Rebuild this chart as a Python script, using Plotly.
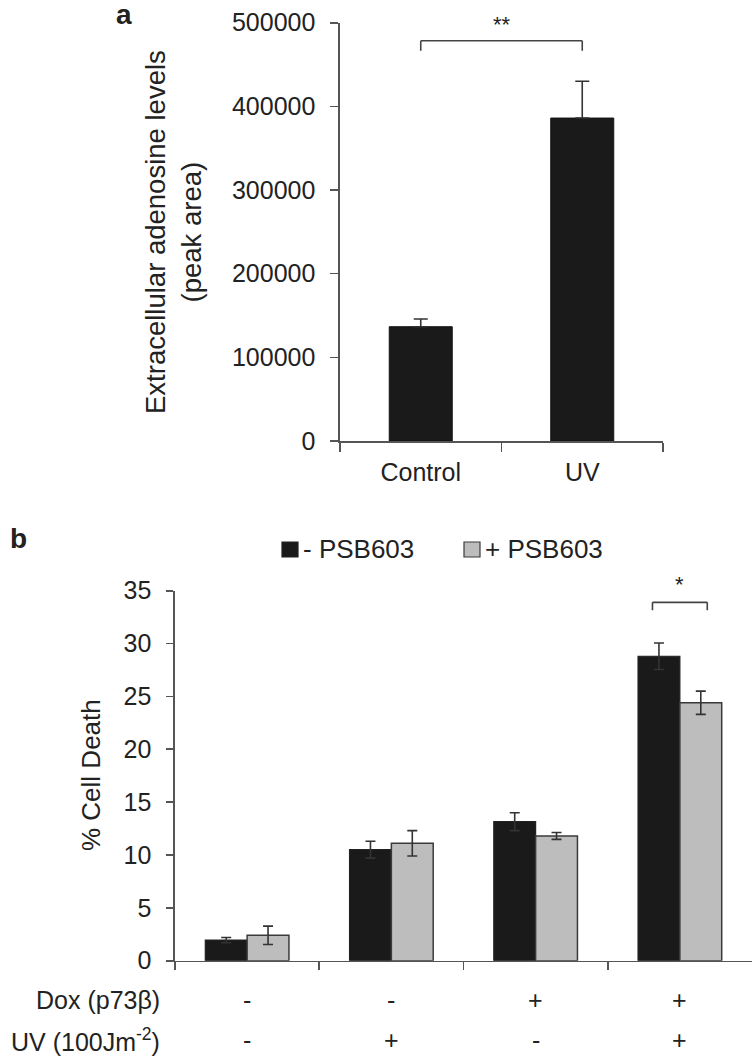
import plotly.graph_objects as go

# ---------------- data ----------------
# Panel a
a_categories = ["Control", "UV"]
a_values = [136600, 386000]
a_errors = [9200, 44000]
a_ticks = [0, 100000, 200000, 300000, 400000, 500000]

# Panel b
b_groups = ["Dox-/UV-", "Dox-/UV+", "Dox+/UV-", "Dox+/UV+"]
b_minus_psb = [1.95, 10.5, 13.15, 28.8]
b_minus_err = [0.25, 0.8, 0.85, 1.25]
b_plus_psb = [2.4, 11.1, 11.8, 24.4]
b_plus_err = [0.87, 1.2, 0.32, 1.1]
b_ticks = [0, 5, 10, 15, 20, 25, 30, 35]
dox_signs = ["-", "-", "+", "+"]
uv_signs = ["-", "+", "-", "+"]
series_names = ["- PSB603", "+ PSB603"]

# ---------------- style ----------------
W, H = 754, 1059
FONT = "Liberation Sans, Arial, sans-serif"
TXT = "#222222"
AX = "#555555"
BLACK = "#1a1a1a"
GRAY = "#bdbdbd"


def px_x(p):
    return p / W


def px_y(p):
    return 1 - p / H


fig = go.Figure()

# Panel a bars
fig.add_trace(go.Bar(
    x=a_categories, y=a_values, xaxis="x", yaxis="y",
    width=0.39,
    marker=dict(color=BLACK, line=dict(color="#111111", width=1)),
    error_y=dict(type="data", array=a_errors, arrayminus=[0] * len(a_errors),
                 symmetric=False, color="#333333", thickness=1.6, width=7),
    showlegend=False,
))

# Panel b bars
fig.add_trace(go.Bar(
    x=b_groups, y=b_minus_psb, xaxis="x2", yaxis="y2", name=series_names[0],
    width=0.29, offset=-0.29,
    marker=dict(color=BLACK, line=dict(color="#222222", width=1.2)),
    error_y=dict(type="data", array=b_minus_err, color="#333333", thickness=1.6, width=5),
    showlegend=False,
))
fig.add_trace(go.Bar(
    x=b_groups, y=b_plus_psb, xaxis="x2", yaxis="y2", name=series_names[1],
    width=0.29, offset=0,
    marker=dict(color=GRAY, line=dict(color="#3a3a3a", width=1.5)),
    error_y=dict(type="data", array=b_plus_err, color="#333333", thickness=1.6, width=5),
    showlegend=False,
))

axis_common = dict(
    showline=True, linecolor=AX, linewidth=1.6,
    ticks="outside", tickcolor=AX, tickwidth=1.6,
    showgrid=False, zeroline=False, automargin=False,
    tickfont=dict(family=FONT, size=25, color=TXT),
    fixedrange=True,
)

fig.update_layout(
    template="none",
    width=W, height=H,
    margin=dict(l=0, r=0, t=0, b=0, pad=0, autoexpand=False),
    paper_bgcolor="white", plot_bgcolor="white",
    barmode="overlay", showlegend=False,
    font=dict(family=FONT, color=TXT),
    xaxis=dict(axis_common, domain=[px_x(340), px_x(663)], anchor="y",
               type="category", categoryorder="array", categoryarray=a_categories,
               range=[-0.5, 1.5], tickson="boundaries", ticklen=9,
               ticklabelstandoff=8),
    yaxis=dict(axis_common, domain=[px_y(441), px_y(22.7)], anchor="x",
               range=[0, 500000], tickvals=a_ticks, tickformat="d", ticklen=8,
               ticklabelstandoff=10),
    xaxis2=dict(axis_common, domain=[px_x(175), px_x(752)], anchor="y2",
                type="category", categoryorder="array", categoryarray=b_groups,
                range=[-0.5, 3.5], tickson="boundaries", ticklen=8,
                showticklabels=False),
    yaxis2=dict(axis_common, domain=[px_y(960.7), px_y(590.7)], anchor="x2",
                range=[0, 35], tickvals=b_ticks, ticklen=7,
                ticklabelstandoff=10),
)

ann = []
shapes = []

# Panel letters
ann.append(dict(text="<b>a</b>", x=px_x(114), y=px_y(-3), xref="paper", yref="paper",
                showarrow=False, font=dict(size=28, family=FONT, color=TXT)))
ann.append(dict(text="<b>b</b>", x=px_x(8), y=px_y(538), xref="paper", yref="paper",
                showarrow=False, font=dict(size=28, family=FONT, color=TXT)))

# Axis titles
ann.append(dict(text="Extracellular adenosine levels<br>(peak area)", textangle=-90,
                x=px_x(174), y=px_y(232), xref="paper", yref="paper", showarrow=False,
                xanchor="center", yanchor="middle",
                font=dict(size=27.5, family=FONT, color=TXT)))
ann.append(dict(text="% Cell Death", textangle=-90,
                x=px_x(91), y=px_y(775), xref="paper", yref="paper", showarrow=False,
                xanchor="center", yanchor="middle",
                font=dict(size=26, family=FONT, color=TXT)))

# Significance bracket panel a
yb, yl = 478500, 466500
for x0, y0, x1, y1 in [(0, yl, 0, yb), (0, yb, 1, yb), (1, yb, 1, yl)]:
    shapes.append(dict(type="line", xref="x", yref="y", x0=x0, y0=y0, x1=x1, y1=y1,
                       line=dict(color="#444444", width=1.6)))
ann.append(dict(text="**", x=0.5, y=px_y(10), xref="x", yref="paper", showarrow=False,
                font=dict(size=22, family=FONT, color=TXT)))

# Significance bracket panel b
yb2, yl2 = 33.9, 33.15
for x0, y0, x1, y1 in [(2.81, yl2, 2.81, yb2), (2.81, yb2, 3.19, yb2), (3.19, yb2, 3.19, yl2)]:
    shapes.append(dict(type="line", xref="x2", yref="y2", x0=x0, y0=y0, x1=x1, y1=y1,
                       line=dict(color="#444444", width=1.6)))
ann.append(dict(text="*", x=3, y=px_y(584), xref="x2", yref="paper", showarrow=False,
                font=dict(size=22, family=FONT, color=TXT)))

# Legend (manual)
legend_items = [(series_names[0], BLACK, "#222222", 282, 301),
                (series_names[1], GRAY, "#3a3a3a", 464, 483)]
for name, fill, edge, sx, tx in legend_items:
    shapes.append(dict(type="rect", xref="paper", yref="paper",
                       x0=px_x(sx), x1=px_x(sx + 16), y0=px_y(557), y1=px_y(542),
                       fillcolor=fill, line=dict(color=edge, width=1.2)))
    ann.append(dict(text=name, x=px_x(tx), y=px_y(549), xref="paper", yref="paper",
                    xanchor="left", yanchor="middle", showarrow=False,
                    font=dict(size=26, family=FONT, color=TXT)))

# Treatment rows
rows = [("Dox (p73β)", dox_signs, 1000), ("UV (100Jm<sup>-2</sup>)", uv_signs, 1040)]
for label, signs, ypix in rows:
    ann.append(dict(text=label, x=px_x(162), y=px_y(ypix), xref="paper", yref="paper",
                    xanchor="right", yanchor="middle", showarrow=False,
                    font=dict(size=25, family=FONT, color=TXT)))
    for g, s in zip(b_groups, signs):
        ann.append(dict(text=s, x=g, y=px_y(ypix), xref="x2", yref="paper",
                        yanchor="middle", showarrow=False,
                        font=dict(size=25, family=FONT, color=TXT)))

fig.update_layout(annotations=ann, shapes=shapes)

fig.write_html("out.html",
               config={"displayModeBar": False, "staticPlot": True},
               post_script="document.body.style.margin='0';"
                           "document.body.style.overflow='hidden';")
